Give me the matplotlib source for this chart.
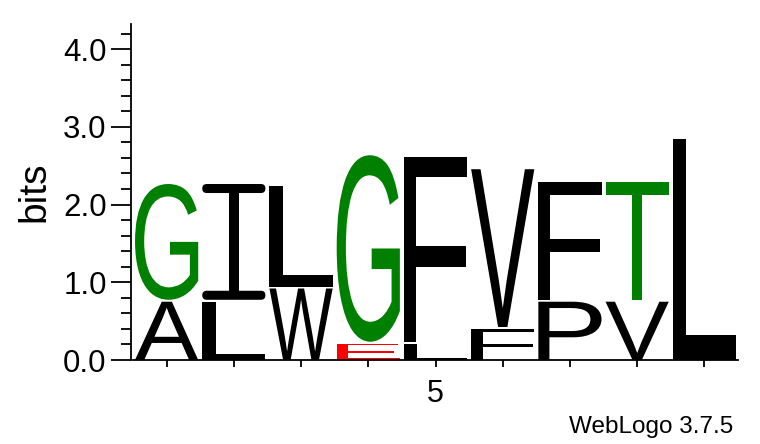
import matplotlib
matplotlib.use('Agg')
import matplotlib.pyplot as plt
from matplotlib.textpath import TextPath
from matplotlib.font_manager import FontProperties
from matplotlib.patches import PathPatch, FancyBboxPatch, Rectangle
from matplotlib.transforms import Affine2D

# datos del logo: letras de abajo hacia arriba y su altura en bits
posiciones = [1, 2, 3, 4, 5, 6, 7, 8, 9]
letras = [['A', 'G'], ['L', 'I'], ['W', 'L'], ['E', 'G'], ['L', 'F'],
          ['F', 'V'], ['P', 'F'], ['V', 'T'], ['L']]
alturas = [[0.75, 1.49], [0.75, 1.49], [0.92, 1.30], [0.21, 2.40], [0.21, 2.38],
           [0.40, 2.03], [0.75, 1.51], [0.75, 1.51], [2.85]]
etiquetas_x = ['', '', '', '', '5', '', '', '', '']

colores = {'G': '#008000', 'T': '#008000', 'E': '#ff0000'}
fuente = FontProperties(family='Liberation Sans')
ymax = 4.32
ancho = 0.94   # fraccion de la columna ocupada por la letra
hueco = 0.025  # espacio entre letras apiladas

fig = plt.figure(figsize=(7.6, 4.44), dpi=100)
ax = fig.add_axes([133 / 760, 84 / 444, 605 / 760, 335.7 / 444])
ax.set_xlim(0.5, 9.5)
ax.set_ylim(0, ymax)

# pixeles por unidad (para redondear las barras de la I)
px_x = 605 / 9
px_y = 335.7 / ymax


def dibujar_letra(letra, x0, y0, w, h, color):
    if letra == 'I':
        # la I de WebLogo tiene barras con extremos redondeados
        grosor = 0.078 * h
        tallo = 0.165 * w
        r = grosor / 2 * px_y / px_x
        for yb in [y0, y0 + h - grosor]:
            ax.add_patch(FancyBboxPatch((x0, yb), w, grosor,
                                        boxstyle=f'round,pad=0,rounding_size={r}',
                                        mutation_aspect=px_x / px_y,
                                        fc=color, ec='none'))
        ax.add_patch(Rectangle((x0 + (w - tallo) / 2, y0 + grosor / 2), tallo,
                               h - grosor, fc=color, ec='none'))
        return
    tp = TextPath((0, 0), letra, size=1, prop=fuente)
    bb = tp.get_extents()
    t = Affine2D().translate(-bb.x0, -bb.y0).scale(w / bb.width, h / bb.height).translate(x0, y0)
    ax.add_patch(PathPatch(t.transform_path(tp), fc=color, ec='none', lw=0))


for pos, letras_col, alts in zip(posiciones, letras, alturas):
    y = 0.0
    for letra, h in zip(letras_col, alts):
        dibujar_letra(letra, pos - ancho / 2, y, ancho, h, colores.get(letra, 'black'))
        y += h + hueco

# ejes al estilo WebLogo
for lado in ['top', 'right']:
    ax.spines[lado].set_visible(False)
ax.spines['left'].set_position(('outward', 1.5))
ax.spines['left'].set_linewidth(1.3)
ax.spines['bottom'].set_linewidth(1.3)

ax.set_yticks([0, 1, 2, 3, 4])
ax.set_yticklabels(['0.0', '1.0', '2.0', '3.0', '4.0'])
ax.set_yticks([i * 0.2 for i in range(22)], minor=True)
ax.tick_params(axis='y', which='major', length=14.4, width=1.3, pad=3,
               labelsize=22.5, labelfontfamily='Liberation Sans')
ax.tick_params(axis='y', which='minor', length=7.2, width=1.3)
ax.set_xticks(posiciones)
ax.set_xticklabels(etiquetas_x)
ax.tick_params(axis='x', which='major', length=5, width=1.3, pad=9,
               labelsize=22, labelfontfamily='Liberation Sans')

fig.text(34 / 760, 1 - 192 / 444, 'bits', rotation=90, ha='center', va='center',
         fontsize=28, family='Liberation Sans')

fig.text(733 / 760, 10.7 / 444, 'WebLogo 3.7.5', ha='right', va='baseline',
         fontsize=17.5, family='Liberation Sans')

fig.savefig('out.png', dpi=100)
